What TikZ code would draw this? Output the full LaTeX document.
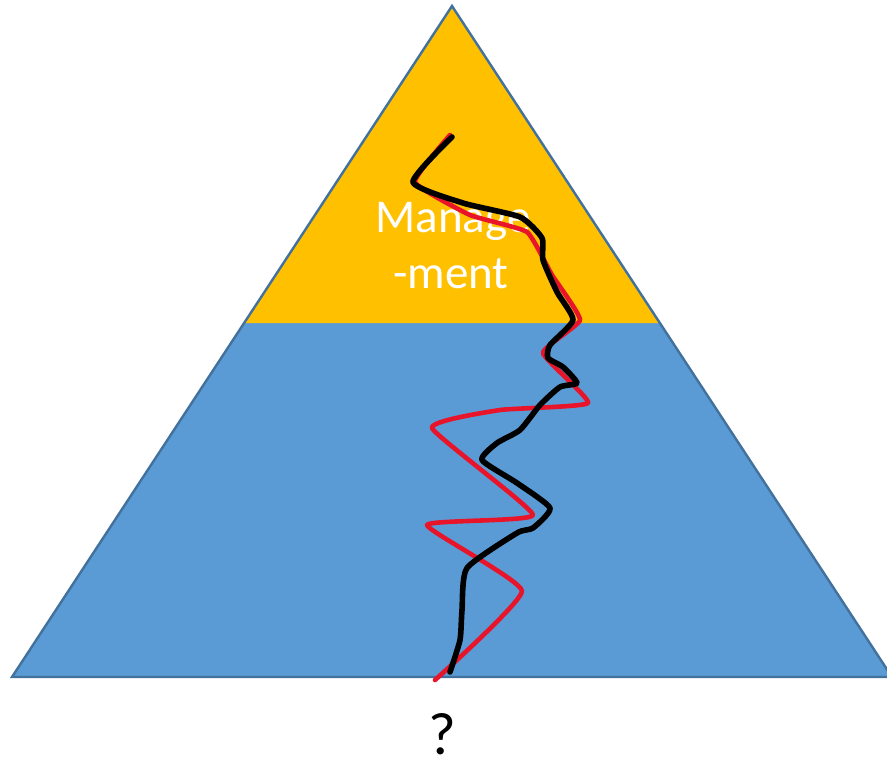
\documentclass[tikz,border=0pt]{standalone}
\usepackage{fontspec}
\setmainfont{Carlito}
\definecolor{topfill}{HTML}{FFC000}
\definecolor{basefill}{HTML}{5B9BD5}
\definecolor{edgeline}{HTML}{41719C}
\definecolor{redline}{HTML}{E8142A}
\tikzset{
  outline/.style={draw=edgeline, line width=2.4pt, line join=miter},
  label/.style={font=\fontsize{47}{56}\selectfont, inner sep=0pt, anchor=base},
  redpath/.style={draw=redline, line width=4.6pt, line cap=round, line join=round},
  blackpath/.style={draw=black, line width=5.6pt, line cap=round, line join=round}
}

\begin{document}
\begin{tikzpicture}[x=1pt, y=-1pt]
\useasboundingbox (0,0) rectangle (887,760);

% Pyramid corners.
\coordinate (apex) at (452,6);
\coordinate (bl) at (12,677);
\coordinate (br) at (892,677);
\coordinate (ml) at (244,323);
\coordinate (mr) at (660,323);

% Layers.
\fill[basefill] (ml) -- (mr) -- (br) -- (bl) -- cycle;
\fill[topfill] (apex) -- (mr) -- (ml) -- cycle;
\draw[outline] (apex) -- (br) -- (bl) -- cycle;

% Labels.
\node[label, text=white] (mgmt) at (453,232) {Manage};
\node[label, text=white] (ment) at (451,288) {-ment};
\node[label, text=black, font=\fontsize{60}{70}\selectfont] (ask) at (442,754) {?};

% Red path.
\draw[redpath] plot[smooth, tension=0.25] coordinates {
  (450,135) (415,182) (470,215) (527,232) (552,275) (580,320)
  (543,353) (588,403) (500,410) (432,428) (533,515) (427,525)
  (522,591) (435,680)};

% Black path.
\draw[blackpath] plot[smooth, tension=0.35] coordinates {
  (452,137) (413,182) (463,203) (520,217) (542,238) (543,260)
  (557,292) (573,320) (550,345) (548,358) (563,367) (577,383)
  (560,387) (540,405) (520,430) (497,443) (482,460) (517,483)
  (550,508) (533,528) (517,533) (467,568) (462,610) (460,640)
  (450,672)};

\end{tikzpicture}
\end{document}
